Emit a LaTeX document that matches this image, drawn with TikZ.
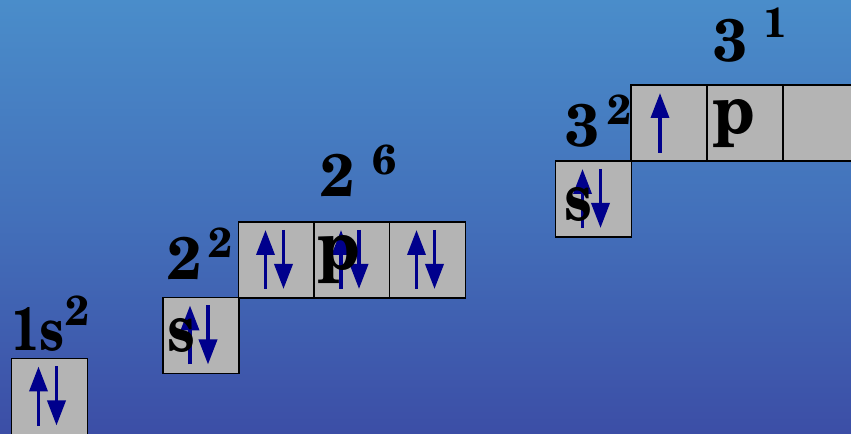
\documentclass[tikz,border=0pt]{standalone}
\usepackage{fontspec}
\setmainfont{TeX Gyre Schola}
\newfontfamily\narrowfont{TeX Gyre Schola}[FakeStretch=0.82]
\newfontfamily\pfont{TeX Gyre Schola}[FakeStretch=0.92]
\usetikzlibrary{arrows.meta}
\definecolor{bgtop}{RGB}{74,141,202}
\definecolor{bgmid}{RGB}{67,112,186}
\definecolor{bgbot}{RGB}{60,78,166}
\definecolor{boxgray}{RGB}{180,180,180}
\definecolor{spin}{RGB}{0,0,140}
\tikzset{
  orb/.style={draw=black, line width=1.6bp, fill=boxgray, minimum size=76bp, inner sep=0pt, outer sep=0pt},
  spinarrow/.style={draw=spin, line width=3.6bp, -{Triangle[length=25bp,width=18bp]}},
  big/.style={inner sep=0pt, anchor=base west, font=\fontsize{60}{60}\selectfont\bfseries},
  bigletters/.style={inner sep=0pt, anchor=base west, font=\narrowfont\fontsize{61}{61}\selectfont\bfseries},
  sup/.style={inner sep=0pt, anchor=base west, font=\fontsize{42}{42}\selectfont\bfseries},
  sbox/.style={inner sep=0pt, anchor=base west, font=\narrowfont\fontsize{68}{68}\selectfont\bfseries},
  pbox/.style={inner sep=0pt, anchor=base west, font=\pfont\fontsize{70}{70}\selectfont\bfseries},
  updown/.pic={
    \draw[spinarrow] (27,67) -- (27,8);
    \draw[spinarrow] (45,8) -- (45,67);
  },
  uponly/.pic={
    \draw[spinarrow] (29,68) -- (29,8);
  }
}
\begin{document}
\begin{tikzpicture}[x=1bp,y=-1bp]
\useasboundingbox (0,0) rectangle (851,434);
\shade[top color=bgtop, bottom color=bgbot, middle color=bgmid] (0,0) rectangle (851,434);
\clip (0,0) rectangle (851,434);
% boxes
\node[orb] (s1) at (49.5,396.5) {};
\node[orb] (s2) at (201,335.5) {};
\node[orb] (p2a) at (276.5,260) {};
\node[orb] (p2b) at (352,260) {};
\node[orb] (p2c) at (427.5,260) {};
\node[orb] (s3) at (593.5,199) {};
\node[orb] (p3a) at (669,123) {};
\node[orb] (p3b) at (745,123) {};
\node[orb] (p3c) at (821,123) {};
% spins
\pic at (s1.north west) {updown};
\pic at (s2.north west) {updown};
\pic at (p2a.north west) {updown};
\pic at (p2b.north west) {updown};
\pic at (p2c.north west) {updown};
\pic at (s3.north west) {updown};
\pic at (p3a.north west) {uponly};
% labels
\node[bigletters] (l1) at (11,351) {1s};
\node[sup] (l1s) at (65,326) {2};
\node[big] (l2) at (167,280) {2};
\node[sup] (l2s) at (208,258) {2};
\node[big] (l3) at (320,197) {2};
\node[sup] (l3s) at (372,175) {6};
\node[big] (l4) at (565,147) {3};
\node[sup] (l4s) at (607,125) {2};
\node[big] (l5) at (713,62) {3};
\node[sup] (l5s) at (763,38) {1};
\node[sbox] (ts2) at (167,352) {s};
\node[pbox] (tp2) at (317,270) {p};
\node[sbox] (ts3) at (564,221) {s};
\node[pbox] (tp3) at (712,134) {p};
\end{tikzpicture}
\end{document}
